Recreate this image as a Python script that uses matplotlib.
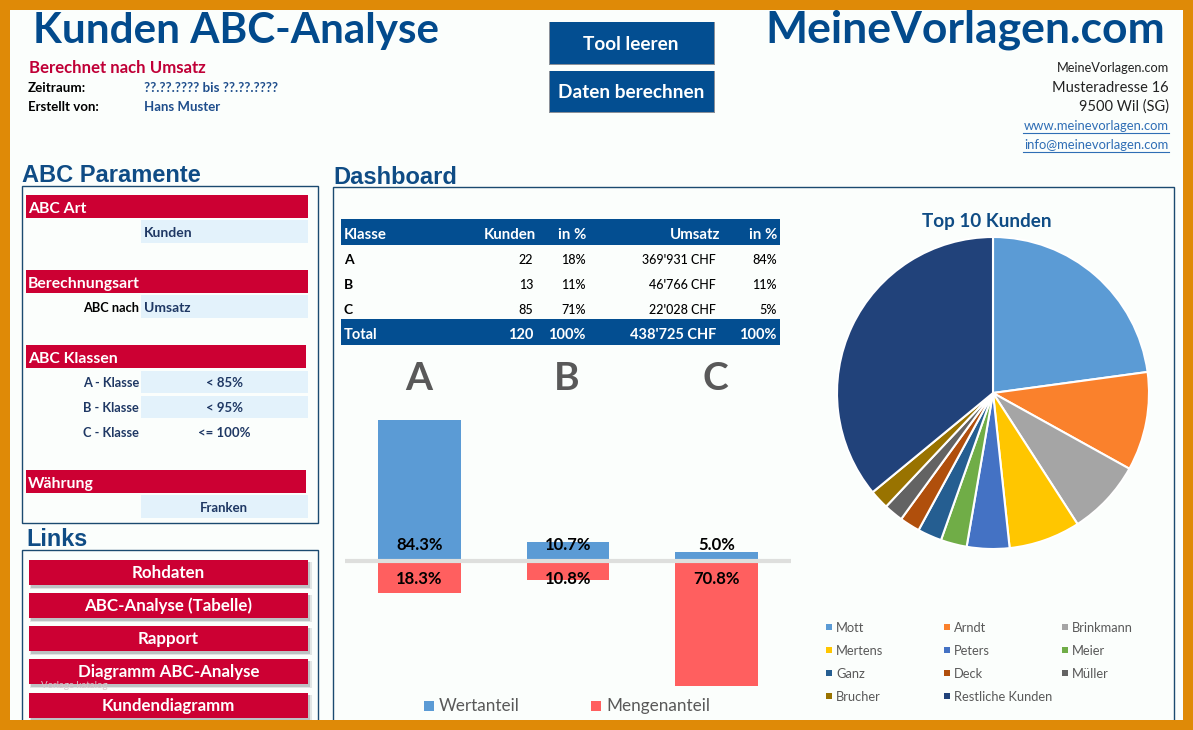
import matplotlib
matplotlib.use("Agg")
import matplotlib.pyplot as plt
from matplotlib.patches import Rectangle

W, H = 1193, 730

# chart data
classes = ["A", "B", "C"]
wertanteil = [84.3, 10.7, 5.0]
mengenanteil = [18.3, 10.8, 70.8]

top_names = ["Mott", "Arndt", "Brinkmann", "Mertens", "Peters", "Meier",
             "Ganz", "Deck", "Müller", "Brucher", "Restliche Kunden"]
top_values = [22.8, 10.2, 7.8, 7.4, 4.4, 2.7, 2.5, 2.1, 2.0, 2.0, 35.9]
top_colors = ["#5B9BD5", "#FA812C", "#A5A5A5", "#FFC600", "#4472C4", "#70AD47",
              "#255E91", "#B04F0C", "#636363", "#997300", "#21427A"]

# table data
table_head = ["Klasse", "Kunden", "in %", "Umsatz", "in %"]
table_klasse = ["A", "B", "C"]
table_kunden = ["22", "13", "85"]
table_kunden_pct = ["18%", "11%", "71%"]
table_umsatz = ["369'931 CHF", "46'766 CHF", "22'028 CHF"]
table_umsatz_pct = ["84%", "11%", "5%"]
table_total = ["Total", "120", "100%", "438'725 CHF", "100%"]

link_names = ["Rohdaten", "ABC-Analyse (Tabelle)", "Rapport", "Diagramm ABC-Analyse", "Kundendiagramm"]

ORANGE = "#DF8A07"
BG = "#FBFEFC"
BLUE = "#034E91"
RED = "#CC0033"
LIGHT = "#E3F2FB"
DARK = "#1F3864"
BORDER = "#1B4A70"
SANS = "Lato"
ARIAL = "Liberation Sans"

fig = plt.figure(figsize=(W / 100, H / 100), dpi=100, facecolor=BG)

# page axes in pixel coordinates, for the spreadsheet layout
page = fig.add_axes([0, 0, 1, 1], zorder=0)
page.set_xlim(0, W)
page.set_ylim(H, 0)
page.axis("off")


def rect(x0, y0, x1, y1, color, z=1, **kw):
    page.add_patch(Rectangle((x0, y0), x1 - x0, y1 - y0, facecolor=color, edgecolor="none", zorder=z, **kw))


def frame(x0, y0, x1, y1):
    page.add_patch(Rectangle((x0, y0), x1 - x0, y1 - y0, facecolor="none", edgecolor=BORDER, lw=1, zorder=2))


def label(x, y, s, size=9.5, color="black", weight="normal", ha="left", family=SANS):
    # va=center sits about a pixel high against the reference
    return page.text(x, y + 1, s, fontsize=size, color=color, fontweight=weight, ha=ha, va="center",
                     family=family, zorder=5)


# header
label(33, 30, "Kunden ABC-Analyse", 30.3, "#024A8C", "bold")
label(1165, 29, "MeineVorlagen.com", 32, "#024A8C", "bold", ha="right")
label(29, 67, "Berechnet nach Umsatz", 12.1, "#C00037", "bold")
label(28, 87, "Zeitraum:", 9.6, "black", "bold")
label(28, 106, "Erstellt von:", 9.5, "black", "bold")
label(144, 87, "??.??.???? bis ??.??.????", 9.6, "#1F4E8C", "bold")
label(144, 106, "Hans Muster", 9.5, "#1F4E8C", "bold")

for y0, y1, s in [(22, 64, "Tool leeren"), (71, 112, "Daten berechnen")]:
    rect(549, y0, 715, y1 + 1, "#8A9099")
    rect(550, y0, 714, y1, BLUE, z=2)
    label(631, (y0 + y1) / 2, s, 13.7, "white", "bold", ha="center")

label(1169, 67, "MeineVorlagen.com", 9.2, "#222222", ha="right")
label(1169, 87, "Musteradresse 16", 10.5, "#222222", ha="right")
label(1169, 106, "9500 Wil (SG)", 10.5, "#222222", ha="right")
label(1169, 125, "www.meinevorlagen.com", 9.4, "#2F6EB5", ha="right")
label(1169, 144, "info@meinevorlagen.com", 9.4, "#2F6EB5", ha="right")
page.plot([1023, 1169], [132.5, 132.5], color="#2F6EB5", lw=0.8, zorder=5)
page.plot([1023, 1169], [151.5, 151.5], color="#2F6EB5", lw=0.8, zorder=5)

# left panel
label(22, 175, "ABC Paramente", 17, "#0F4C85", "bold", family=ARIAL)
frame(22, 186, 318, 523)
for y0, x1, s in [(195, 308, "ABC Art"), (270, 308, "Berechnungsart"), (345, 306, "ABC Klassen"), (470, 306, "Währung")]:
    rect(26, y0, x1, y0 + 23, RED)
    label(28, y0 + 13, s, 11.3, "white", "bold")
for y0, y1 in [(220, 243), (295, 318), (371, 393), (396, 418), (495, 518)]:
    rect(141, y0, 308, y1, LIGHT)
label(144, 232, "Kunden", 10, DARK, "bold")
label(139, 307, "ABC nach", 9.2, "black", "bold", ha="right")
label(144, 307, "Umsatz", 10, DARK, "bold")
for y, a, b in [(382, "A - Klasse", "< 85%"), (407, "B - Klasse", "< 95%"), (432, "C - Klasse", "<= 100%")]:
    label(139, y, a, 9.2, DARK, "bold", ha="right")
    label(224, y, b, 9.5, DARK, "bold", ha="center")
label(224, 507, "Franken", 9.5, DARK, "bold", ha="center")

label(26, 539, "Links", 16.8, "#0F4C85", "bold", family=ARIAL)
frame(22, 550, 318, 730)
link_tops = [560, 593, 626, 659, 693]
for y0, s in zip(link_tops, link_names):
    # soft drop shadow
    rect(30, y0 + 2, 312, y0 + 29, "#9AA0A4", z=2, alpha=0.25)
    rect(31, y0 + 2, 310, y0 + 28, "#9AA0A4", z=2, alpha=0.5)
    rect(29, y0, 308, y0 + 25, RED, z=3)
    label(168.5, y0 + 12, s, 12.2, "white", "bold", ha="center")
label(41, 684, "Vorlage katalog", 7, "#D8C4CA")

# dashboard
label(333, 176, "Dashboard", 17, "#0F4C85", "bold", family=ARIAL)
frame(333, 187, 1174, 730)
rect(341, 219, 780, 245, BLUE)
rect(341, 319, 780, 345, BLUE)
col_head = [344, 536, 586, 720, 777]
col_vals = [344, 533, 586, 716, 777]
aligns = ["left", "right", "right", "right", "right"]
for x, a, s in zip(col_head, aligns, table_head):
    label(x, 234, s, 10.8, "white", "bold", ha=a)
rows = zip(table_klasse, table_kunden, table_kunden_pct, table_umsatz, table_umsatz_pct)
for i, row in enumerate(rows):
    for j, s in enumerate(row):
        label(col_vals[j], 259 + 25 * i, s, 10 if j == 0 else 9, "black", "bold" if j == 0 else "medium", ha=aligns[j])
for x, a, s in zip(col_vals, aligns, table_total):
    label(x, 334, s, 10.5, "white", "bold", ha=a)

# bar chart: the y axis stops at 80, so the A bar is cut off at the top
ax = fig.add_axes([345 / W, 1 - 702 / H, 446 / W, 282 / H], zorder=2)
ax.patch.set_visible(False)
ax.axis("off")
ax.set_xlim(-0.5, 2.5)
ax.set_ylim(-80, 80)
x = range(len(classes))
ax.bar(x, wertanteil, width=0.558, color="#5B9BD5")
ax.bar(x, [-v for v in mengenanteil], width=0.558, color="#FF5F5F")
ax.axhline(0, color="#DEDFDD", lw=3, zorder=3)
for i, c in enumerate(classes):
    page.text(418.3 + 148.67 * i, 378, c, fontsize=28, fontweight="bold", color="#595959",
              ha="center", va="center", family=SANS)
    ax.text(i, 9, "%.1f%%" % wertanteil[i], fontsize=12, fontweight="bold", ha="center", va="center",
            family=SANS, color="black", zorder=4)
    ax.text(i, -10, "%.1f%%" % mengenanteil[i], fontsize=12, fontweight="bold", ha="center", va="center",
            family=SANS, color="black", zorder=4)

rect(424, 701, 434, 711, "#5B9BD5")
label(439, 705, "Wertanteil", 12.3, "#595959")
rect(591, 701, 601, 711, "#FF5F5F")
label(606, 705, "Mengenanteil", 12.3, "#595959")

# pie
label(987, 220, "Top 10 Kunden", 13.6, "#0F4C85", "bold", ha="center")
pie_ax = fig.add_axes([837 / W, 1 - 549 / H, 312 / W, 312 / H], zorder=2)
pie_ax.pie(top_values, colors=top_colors, startangle=90, counterclock=False, radius=1,
           wedgeprops={"edgecolor": "white", "linewidth": 1.5})
pie_ax.set_xlim(-1, 1)
pie_ax.set_ylim(-1, 1)

for i, (name, col) in enumerate(zip(top_names, top_colors)):
    lx = 826 + 118 * (i % 3)
    ly = 627 + 23 * (i // 3)
    rect(lx, ly - 3, lx + 6, ly + 3, col)
    label(lx + 10, ly, name, 9.3, "#595959")

# orange border last so it cuts the panels off
rect(0, 0, W, 10, ORANGE, z=10)
rect(0, 720, W, H, ORANGE, z=10)
rect(0, 0, 10, H, ORANGE, z=10)
rect(1183, 0, W, H, ORANGE, z=10)

fig.savefig("out.png", dpi=100, facecolor=BG)
